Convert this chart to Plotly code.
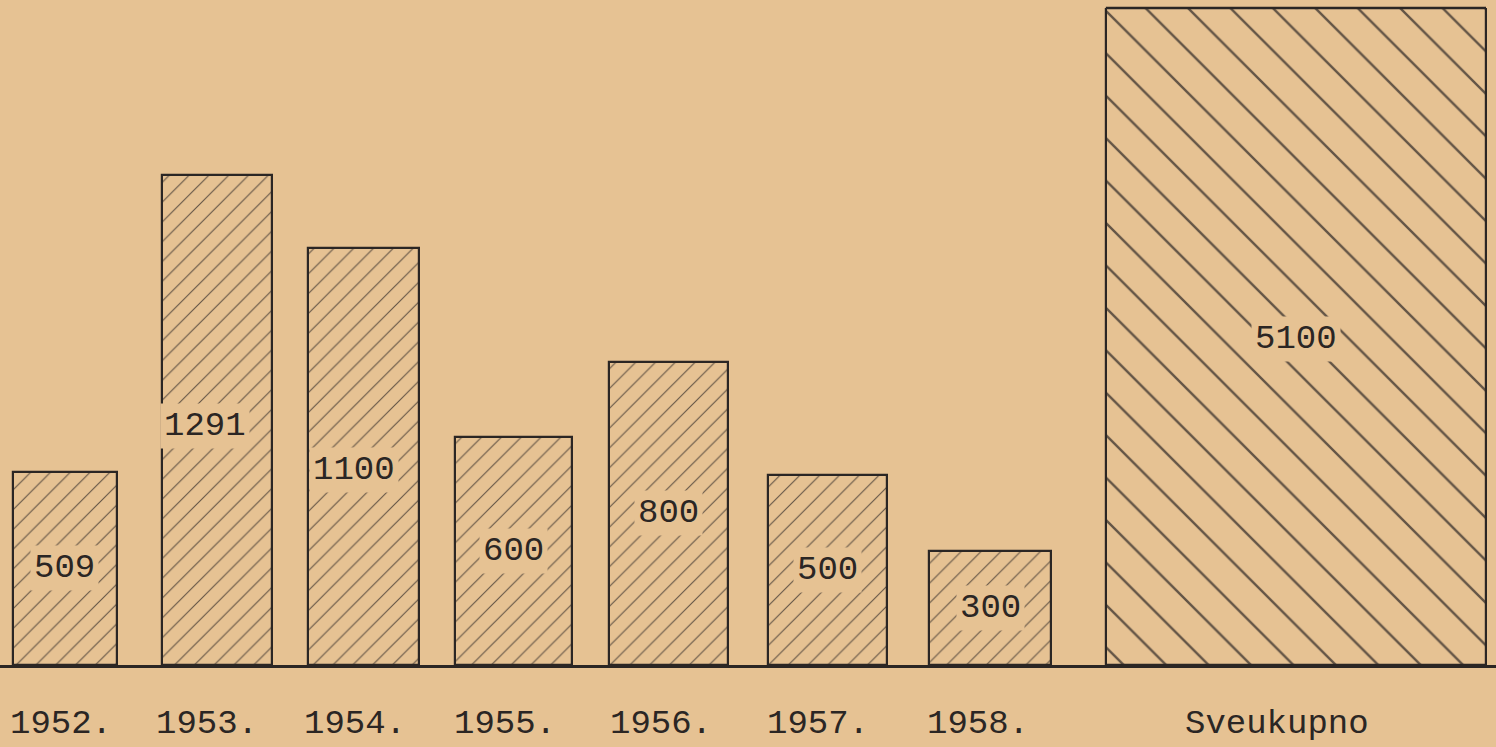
import plotly.graph_objects as go

# ---- data ----
categories = ["1952.", "1953.", "1954.", "1955.", "1956.", "1957.", "1958.", "Sveukupno"]
values = [509, 1291, 1100, 600, 800, 500, 300, 5100]
value_labels = ["509", "1291", "1100", "600", "800", "500", "300", "5100"]
spacer = " "

# ---- style ----
bar_widths = [0.675, 0.71, 0.72, 0.76, 0.77, 0.77, 0.79, 2.47]
bar_nudges = [0.0, -0.01, -0.058, -0.084, -0.075, -0.042, 0.013, 0.0]
hatch_shapes = ["/"] * 7 + ["\\"]
hatch_sizes = [14] * 7 + [30]
label_xshift = [0, -12, -10, 0, 0, 0, 0, 0]
label_yshift = [0, -6, -14, 0, 0, 0, 0, -2]
tick_xshift = [-4, -10, -9, -8, -8, -10, -12, -19]
paper = "#E6C293"
ink = "#2B2624"
font_tw = "Liberation Mono, DejaVu Sans Mono, monospace"
y_top = 1732

axis_order = categories[:7] + [spacer] + categories[7:]

fig = go.Figure()
fig.add_trace(go.Bar(
    x=categories,
    y=values,
    width=bar_widths,
    offset=[-w / 2 + n for w, n in zip(bar_widths, bar_nudges)],
    marker=dict(
        color=paper,
        line=dict(color=ink, width=2.2),
        pattern=dict(shape=hatch_shapes, size=hatch_sizes, solidity=0.08,
                     fgcolor=ink, fgopacity=0.7, fillmode="replace"),
    ),
    hoverinfo="skip",
    showlegend=False,
))

for cat, v, lab, n, dx, dy, tdx in zip(categories, values, value_labels,
                                       bar_nudges, label_xshift, label_yshift,
                                       tick_xshift):
    pos = axis_order.index(cat) + n
    # value label inside the bar
    fig.add_annotation(
        x=pos, y=min(v, y_top) / 2, xref="x", yref="y",
        text=lab, showarrow=False, xshift=dx, yshift=dy,
        font=dict(family=font_tw, size=34, color=ink),
        bgcolor=paper, borderpad=3,
    )
    # category label below the axis
    fig.add_annotation(
        x=pos, y=0, xref="x", yref="paper", yanchor="top",
        text=cat, showarrow=False, xshift=tdx, yshift=-38,
        font=dict(family=font_tw, size=34, color=ink),
    )

# top border of the truncated total bar
last = axis_order.index(categories[-1])
fig.add_shape(type="line", xref="x", yref="paper",
              x0=last - bar_widths[-1] / 2, x1=last + bar_widths[-1] / 2,
              y0=1, y1=1, line=dict(color=ink, width=2.5))

fig.update_layout(
    width=1496, height=747,
    margin=dict(l=0, r=0, t=8, b=82, autoexpand=False),
    paper_bgcolor=paper,
    plot_bgcolor=paper,
    bargap=0,
    xaxis=dict(
        type="category",
        categoryorder="array",
        categoryarray=axis_order,
        range=[-0.42, 9.30],
        automargin=False,
        showgrid=False, zeroline=False,
        showline=True, linecolor=ink, linewidth=2.5,
        ticks="", showticklabels=False,
    ),
    yaxis=dict(
        range=[0, y_top],
        automargin=False,
        showgrid=False, zeroline=False, showline=False,
        showticklabels=False, ticks="",
    ),
)

fig.write_html(
    "out.html",
    config={"displayModeBar": False},
    post_script="document.body.style.margin='0';document.body.style.overflow='hidden';",
)
